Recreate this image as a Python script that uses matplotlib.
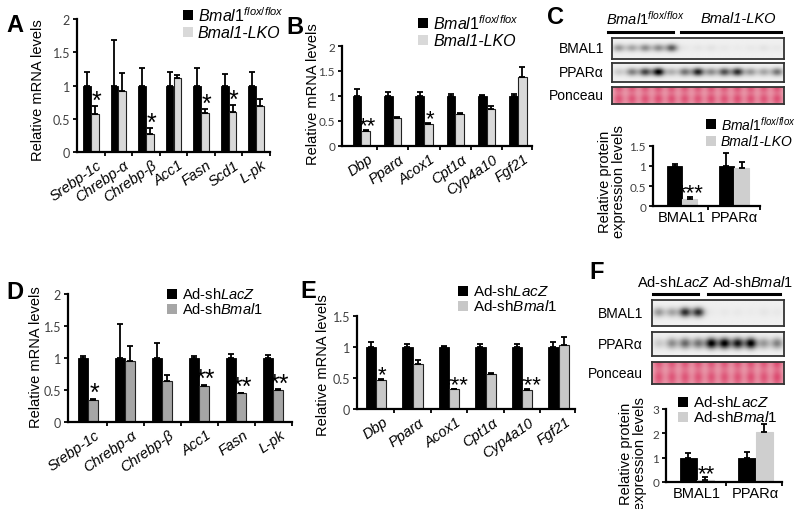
import matplotlib.pyplot as plt
import numpy as np
from matplotlib.patches import Rectangle

plt.rcParams['font.family'] = ['Liberation Sans', 'DejaVu Sans']
plt.rcParams['mathtext.fontset'] = 'custom'
plt.rcParams['mathtext.rm'] = 'Liberation Sans'
plt.rcParams['mathtext.it'] = 'Liberation Sans:italic'

W, H = 800, 510

# ---- data ----
genes_a = ["Srebp-1c", "Chrebp-α", "Chrebp-β", "Acc1", "Fasn", "Scd1", "L-pk"]
flox_a = [1, 1, 1, 1, 1, 1, 1]
flox_a_err = [0.21, 0.68, 0.27, 0.21, 0.26, 0.18, 0.21]
lko_a = [0.57, 0.92, 0.27, 1.11, 0.58, 0.60, 0.69]
lko_a_err = [0.12, 0.27, 0.09, 0.05, 0.06, 0.10, 0.10]
stars_a = ["*", "", "*", "", "*", "*", ""]

genes_b = ["Dbp", "Pparα", "Acox1", "Cpt1α", "Cyp4a10", "Fgf21"]
flox_b = [1, 1, 1, 1, 1, 1]
flox_b_err = [0.14, 0.08, 0.08, 0.04, 0.03, 0.04]
lko_b = [0.30, 0.56, 0.44, 0.64, 0.75, 1.39]
lko_b_err = [0.03, 0.02, 0.03, 0.02, 0.06, 0.19]
stars_b = ["**", "", "*", "", "", ""]

prot = ["BMAL1", "PPARα"]
flox_c = [1, 1]
flox_c_err = [0.06, 0.32]
lko_c = [0.17, 0.94]
lko_c_err = [0.05, 0.15]
stars_c = ["***", ""]

genes_d = ["Srebp-1c", "Chrebp-α", "Chrebp-β", "Acc1", "Fasn", "L-pk"]
lacz_d = [1, 1, 1, 1, 1, 1]
lacz_d_err = [0.03, 0.53, 0.23, 0.03, 0.07, 0.04]
shb_d = [0.34, 0.96, 0.64, 0.57, 0.45, 0.50]
shb_d_err = [0.02, 0.22, 0.09, 0.01, 0.01, 0.01]
stars_d = ["*", "", "", "**", "**", "**"]

genes_e = ["Dbp", "Pparα", "Acox1", "Cpt1α", "Cyp4a10", "Fgf21"]
lacz_e = [1, 1, 1, 1, 1, 1]
lacz_e_err = [0.08, 0.05, 0.02, 0.05, 0.05, 0.08]
shb_e = [0.46, 0.72, 0.32, 0.56, 0.31, 1.04]
shb_e_err = [0.03, 0.07, 0.01, 0.02, 0.02, 0.12]
stars_e = ["*", "", "***", "", "***", ""]

lacz_f = [1, 1]
lacz_f_err = [0.18, 0.22]
shb_f = [0.10, 2.05]
shb_f_err = [0.09, 0.32]
stars_f = ["**", ""]

# western blot band strength per lane (0 = none, 1 = saturated)
c_bmal1 = [0.35, 0.3, 0.4, 0.4, 0.6, 0.03, 0.04, 0.05, 0.03, 0.02, 0.03, 0.05, 0.03]
c_ppara = [0.15, 0.45, 0.7, 1.0, 0.25, 0.5, 0.85, 0.4, 0.65, 0.8, 0.35, 0.3, 0.5]
c_ponceau = [0.85, 0.85, 0.85, 0.9, 0.88, 0.85, 0.85, 0.9, 0.85, 0.9, 0.88, 0.85, 0.9]
f_bmal1 = [0.35, 0.3, 0.8, 0.8, 0.02, 0.03, 0.03, 0.02, 0.04, 0.03]
f_ppara = [0.15, 0.4, 0.55, 0.5, 1.0, 1.0, 0.9, 1.0, 0.35, 0.45]
f_ponceau = [0.85, 0.85, 0.85, 0.85, 0.85, 0.85, 0.85, 0.9, 0.85, 0.95]

GREY_LT = "#d9d9d9"
GREY_DK = "#a6a6a6"

fig = plt.figure(figsize=(8, 5.1), dpi=100)


def rect(l, t, r, b):
    return [l / W, 1 - b / H, (r - l) / W, (b - t) / H]


def bar_panel(box, xlim, ylim, yticks, ylabs, names, v1, e1, v2, e2, stars,
              grey, edge=True, w=0.28, rot=35, star_fs=18, tick_fs=9):
    ax = fig.add_axes(rect(*box))
    x = np.arange(len(v1))
    ec2 = "#222222" if edge else grey
    ax.bar(x - w / 2, v1, w, color="black", edgecolor="black", lw=0.6, zorder=2)
    ax.bar(x + w / 2, v2, w, color=grey, edgecolor=ec2, lw=0.8, zorder=2)
    ax.errorbar(x - w / 2, v1, yerr=[np.zeros(len(v1)), e1], fmt="none",
                ecolor="black", elinewidth=1.3, capsize=2.2, capthick=1.3, zorder=3)
    ax.errorbar(x + w / 2, v2, yerr=[np.zeros(len(v2)), e2], fmt="none",
                ecolor="black", elinewidth=1.3, capsize=2.2, capthick=1.3, zorder=3)
    for i, s in enumerate(stars):
        if s:
            ax.annotate(s, (x[i] + w / 2, v2[i] + e2[i]), xytext=(1, -1),
                        textcoords="offset points", ha="center", va="baseline",
                        fontsize=star_fs)
    ax.set_xlim(*xlim)
    ax.set_ylim(*ylim)
    ax.set_yticks(yticks, ylabs, fontfamily="Lato", fontsize=tick_fs, color="#404040")
    bounds = list(np.arange(len(v1) - 1) + 0.5) + [xlim[1]]
    ax.set_xticks(bounds, [""] * len(bounds))
    if rot:
        ax.set_xticks(x + 0.18, names, minor=True, rotation=rot, ha="right",
                      rotation_mode="anchor", fontstyle="italic", fontsize=10.5)
        ax.tick_params(axis="x", which="minor", length=0, pad=4)
    else:
        ax.set_xticks(x, names, minor=True, fontsize=10.5)
        ax.tick_params(axis="x", which="minor", length=0, pad=3)
    ax.tick_params(which="major", direction="out", length=3, width=1.3)
    ax.tick_params(axis="y", pad=2)
    for s in ("top", "right"):
        ax.spines[s].set_visible(False)
    for s in ("left", "bottom"):
        ax.spines[s].set_linewidth(1.6)
    ax.patch.set_alpha(0)
    return ax


def blot(box, bands, sx=0.32, sy=0.13):
    ax = fig.add_axes(rect(*box))
    n = len(bands)
    X, Y = np.meshgrid(np.linspace(0, n, n * 24), np.linspace(0, 1, 40))
    img = np.full(X.shape, 0.94)
    for i, b in enumerate(bands):
        img -= 0.95 * b * np.exp(-((X - i - 0.5) ** 2 / (2 * sx ** 2)
                                   + (Y - 0.47) ** 2 / (2 * sy ** 2)))
    ax.imshow(np.clip(img, 0, 1), cmap="gray", vmin=0, vmax=1, aspect="auto",
              interpolation="bilinear")
    ax.set_xticks([])
    ax.set_yticks([])
    for s in ax.spines.values():
        s.set_linewidth(1.3)
        s.set_color("#333333")


def ponceau(box, lanes):
    ax = fig.add_axes(rect(*box))
    n = len(lanes)
    X, Y = np.meshgrid(np.linspace(0, n, n * 24), np.linspace(0, 1, 30))
    wgt = np.zeros(X.shape)
    for i, b in enumerate(lanes):
        wgt += b * np.exp(-((X - i - 0.5) ** 2) / (2 * 0.3 ** 2))
    wgt = np.clip(wgt * (0.85 + 0.15 * np.cos(Y * 9)), 0, 1)[..., None]
    pink = np.array([0.86, 0.28, 0.43])
    light = np.array([0.93, 0.70, 0.74])
    img = light * (1 - wgt) + pink * wgt
    ax.imshow(img, aspect="auto", interpolation="bilinear")
    ax.set_xticks([])
    ax.set_yticks([])
    for s in ax.spines.values():
        s.set_linewidth(1.3)
        s.set_color("#333333")


# ---- bar panels ----
bar_panel((77, 20, 270, 153), (-0.5, 6.5), (0, 2), [0, 0.5, 1, 1.5, 2],
          ["0", "0.5", "1", "1.5", "2"], genes_a, flox_a, flox_a_err, lko_a,
          lko_a_err, stars_a, GREY_LT)
bar_panel((342, 47, 532, 147), (-0.62, 5.45), (0, 2), [0, 0.5, 1, 1.5, 2],
          ["0", "0.5", "1", "1.5", "2"], genes_b, flox_b, flox_b_err, lko_b,
          lko_b_err, stars_b, GREY_LT, star_fs=16, tick_fs=8.5)
bar_panel((653, 147, 760, 207), (-0.56, 1.5), (0, 1.5), [0, 0.5, 1, 1.5],
          ["0", "0.5", "1", "1.5"], prot, flox_c, flox_c_err, lko_c, lko_c_err,
          stars_c, "#cfcfcf", edge=False, w=0.29, rot=0, star_fs=16, tick_fs=8.5)
bar_panel((68, 295, 292, 423), (-0.54, 5.51), (0, 2), [0, 0.5, 1, 1.5, 2],
          ["0", "0.5", "1", "1.5", "2"], genes_d, lacz_d, lacz_d_err, shb_d,
          shb_d_err, stars_d, GREY_DK)
bar_panel((357, 317, 575, 410), (-0.52, 5.45), (0, 1.5), [0, 0.5, 1, 1.5],
          ["0", "0.5", "1", "1.5"], genes_e, lacz_e, lacz_e_err, shb_e,
          shb_e_err, stars_e, "#c8c8c8", star_fs=16)
bar_panel((666, 410, 782, 483), (-0.52, 1.45), (0, 3), [0, 1, 2, 3],
          ["0", "1", "2", "3"], prot, lacz_f, lacz_f_err, shb_f, shb_f_err,
          stars_f, "#cfcfcf", edge=False, w=0.29, rot=0, star_fs=16, tick_fs=8.5)

# ---- blots ----
blot((612, 39, 784, 60), c_bmal1)
blot((612, 64, 784, 83), c_ppara, sy=0.15)
ponceau((612, 88, 784, 105), c_ponceau)
blot((652, 301, 784, 327), f_bmal1, sy=0.13)
blot((652, 333, 784, 357), f_ppara, sy=0.16)
ponceau((652, 363, 784, 385), f_ponceau)

# ---- overlay for labels, legends, headers ----
ov = fig.add_axes([0, 0, 1, 1])
ov.set_xlim(0, W)
ov.set_ylim(H, 0)
ov.axis("off")
ov.patch.set_alpha(0)

for lab, x, y in [("A", 15, 26), ("B", 295, 27), ("C", 556, 18),
                  ("D", 15, 293), ("E", 308, 292), ("F", 597, 273)]:
    ov.text(x, y, lab, fontsize=17, fontweight="bold", ha="center", va="center")

ylab_kw = dict(rotation=90, ha="center", va="center", fontsize=10.5)
ov.text(38, 90, "Relative mRNA levels", **ylab_kw)
ov.text(313, 94, "Relative mRNA levels", **ylab_kw)
ov.text(36, 357, "Relative mRNA levels", **ylab_kw)
ov.text(323, 365, "Relative mRNA levels", **ylab_kw)
ov.text(612, 182, "Relative protein\nexpression levels", linespacing=0.95, **ylab_kw)
ov.text(633, 454, "Relative protein\nexpression levels", linespacing=0.95, **ylab_kw)

flox_lab = r"$\mathit{Bmal1}^{\mathit{flox/flox}}$"
lacz_lab = r"Ad-sh$\mathit{LacZ}$"
shb_lab = r"Ad-sh$\mathit{Bmal1}$"


def legend(x, y, labels, colors, dy=16, fs=11.5):
    for i, (lab, col) in enumerate(zip(labels, colors)):
        yy = y + i * dy
        ov.add_patch(Rectangle((x, yy - 5), 10, 10, color=col, lw=0))
        st = "italic" if lab == "Bmal1-LKO" else "normal"
        ov.text(x + 15, yy, lab, fontsize=fs, va="center", ha="left", fontstyle=st)


legend(183, 16, [flox_lab, "Bmal1-LKO"], ["black", GREY_LT], dy=17)
legend(418, 24, [flox_lab, "Bmal1-LKO"], ["black", GREY_LT], dy=17)
legend(706, 125, [flox_lab, "Bmal1-LKO"], ["black", "#cfcfcf"], dy=17, fs=10)
legend(167, 295, [lacz_lab, shb_lab], ["black", GREY_DK], dy=15, fs=10.5)
legend(458, 292, [lacz_lab, shb_lab], ["black", "#c8c8c8"], dy=15, fs=11)
legend(678, 403, [lacz_lab, shb_lab], ["black", "#cfcfcf"], dy=15, fs=11)

# blot row labels and group headers
for lab, y in [("BMAL1", 49), ("PPARα", 73), ("Ponceau", 96)]:
    ov.text(604, y, lab, fontsize=10, ha="right", va="center")
for lab, y in [("BMAL1", 314), ("PPARα", 345), ("Ponceau", 374)]:
    ov.text(643, y, lab, fontsize=10, ha="right", va="center")

ov.text(645, 19, flox_lab, fontsize=10.5, ha="center", va="center")
ov.text(738, 19, "Bmal1-LKO", fontsize=10.5, ha="center", va="center", fontstyle="italic")
ov.plot([608, 673], [33, 33], color="black", lw=2.2)
ov.plot([681, 781], [33, 33], color="black", lw=2.2)

ov.text(674, 283, lacz_lab, fontsize=10.5, ha="center", va="center")
ov.text(752, 283, shb_lab, fontsize=10.5, ha="center", va="center")
ov.plot([653, 698], [295, 295], color="black", lw=2.2)
ov.plot([708, 780], [295, 295], color="black", lw=2.2)

fig.savefig("out.png", dpi=100)
